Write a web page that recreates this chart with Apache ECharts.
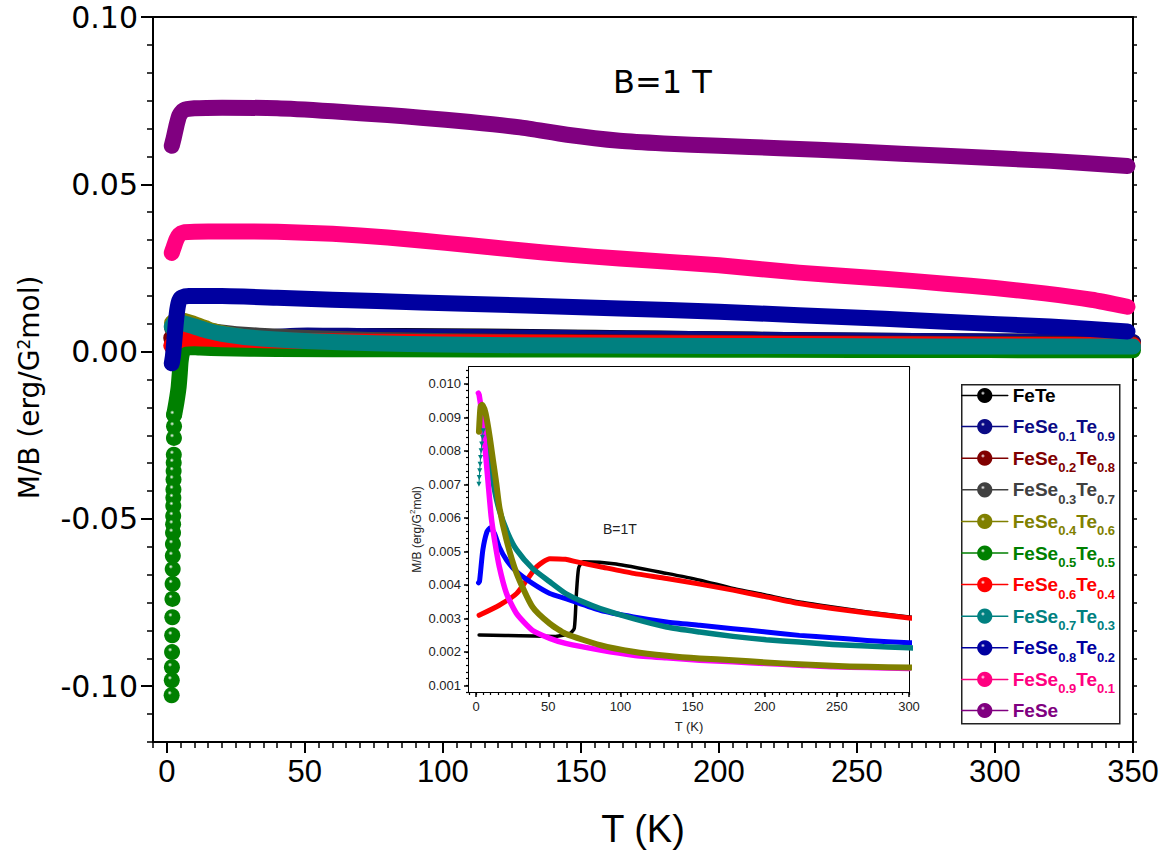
<!DOCTYPE html>
<html><head><meta charset="utf-8">
<script src="https://cdn.jsdelivr.net/npm/echarts@6/dist/echarts.min.js"></script>
<style>html,body{margin:0;padding:0;background:#fff}#c{width:1171px;height:858px}</style>
</head><body><div id="c"></div>
<script>
// ---------------- data ----------------
const seriesNames = ['FeTe','FeSe0.1Te0.9','FeSe0.2Te0.8','FeSe0.3Te0.7','FeSe0.4Te0.6','FeSe0.5Te0.5','FeSe0.6Te0.4','FeSe0.7Te0.3','FeSe0.8Te0.2','FeSe0.9Te0.1','FeSe'];
const seriesColors = ['#000000','#0a0a85','#800000','#404040','#808000','#008000','#ff0000','#008080','#0000a0','#ff0080','#800080'];

const feTe = [[2,0.0025],[20,0.00249],[40,0.00247],[55,0.00246],[65,0.00255],[68,0.0027],[69.4,0.0037],[71,0.0045],[74,0.00469],[97,0.00462],[132,0.00434],[155,0.00414],[178,0.00389],[201,0.00369],[224,0.00349],[247,0.00334],[271,0.00319],[300,0.00304],[350,0.0028]];
const feSe01 = [[2,0.00309],[16,0.00339],[28,0.00374],[35,0.00414],[42,0.00454],[51,0.00478],[62,0.00476],[69,0.00469],[86,0.00454],[109,0.00434],[132,0.00419],[155,0.00402],[178,0.00384],[201,0.00364],[224,0.00344],[247,0.00329],[271,0.00316],[300,0.00301],[350,0.0028]];
const feSe02 = [[1.6,0.00406],[2.3,0.0041],[4.6,0.00504],[7.4,0.00558],[9.7,0.0057],[12.7,0.00553],[16,0.00513],[21,0.00474],[28,0.00439],[39,0.00404],[51,0.00374],[62,0.00359],[86,0.00324],[109,0.00304],[132,0.00289],[155,0.00279],[178,0.00269],[201,0.00259],[224,0.00249],[247,0.00242],[271,0.00234],[300,0.00227],[350,0.0022]];
const feSe03Low = [[1.9,0.0070],[2.1,0.0072],[2.4,0.0074],[2.7,0.0076],[3.0,0.0078],[3.4,0.0080],[3.8,0.0082],[4.3,0.0084],[4.9,0.0086]];
const feSe03 = [[5.1,0.0087],[7,0.0083],[9.3,0.0077],[12.7,0.00683],[16,0.00623],[22,0.00553],[28,0.00504],[39,0.00449],[51,0.00409],[62,0.00374],[74,0.00349],[86,0.00329],[109,0.00299],[132,0.00274],[155,0.00259],[178,0.00246],[201,0.00236],[224,0.00229],[247,0.00222],[271,0.00217],[300,0.00212],[350,0.0020]];
const feSe04 = [[1.9,0.00857],[3,0.00932],[4.2,0.00937],[6.5,0.00912],[9.3,0.00843],[11.6,0.00773],[13.9,0.00703],[16,0.00633],[21,0.00534],[28,0.00434],[39,0.00334],[51,0.00284],[62,0.00254],[86,0.0022],[109,0.002],[132,0.00188],[155,0.0018],[178,0.00175],[201,0.00168],[224,0.00163],[247,0.00158],[271,0.00155],[300,0.00153],[350,0.0015]];
const feSe05Dots = [[2.65,-0.0189],[2.62,-0.0223],[2.58,-0.0258],[2.54,-0.0308],[2.5,-0.0332],[2.47,-0.0357],[2.44,-0.0382],[2.41,-0.0412],[2.38,-0.0437],[2.35,-0.0461],[2.32,-0.0491],[2.29,-0.0516],[2.26,-0.0541],[2.22,-0.0575],[2.18,-0.061],[2.14,-0.065],[2.1,-0.0694],[2.05,-0.0739],[2.0,-0.0794],[1.95,-0.0848],[1.9,-0.0898],[1.85,-0.0943],[1.8,-0.0982],[1.75,-0.1027]];
const feSe05 = [[2.65,-0.0189],[3.2,-0.0165],[3.8,-0.0135],[4.3,-0.0105],[4.7,-0.0065],[5.0,-0.003],[5.5,-0.0005],[6.5,0.001],[8,0.0014],[12,0.0012],[20,0.001],[40,0.0008],[80,0.0007],[150,0.0006],[250,0.0005],[350,0.0004]];
const feSe06 = [[1.6,0.0018],[3,0.0028],[6,0.0038],[10,0.004],[20,0.0037],[50,0.0032],[100,0.0028],[150,0.0026],[200,0.0024],[250,0.0022],[300,0.002],[350,0.0019]];
const feSe07 = [[1.8,0.0075],[2.5,0.0085],[4,0.0088],[6,0.0085],[10,0.0075],[15,0.0062],[20,0.0053],[30,0.0042],[50,0.0032],[75,0.0025],[100,0.0021],[150,0.0018],[200,0.0017],[250,0.0016],[300,0.0015],[350,0.0015]];
const feSe08 = [[1.8,-0.0035],[2.2,-0.0015],[2.7,0.003],[3.2,0.008],[3.8,0.0125],[4.5,0.0152],[5.5,0.0162],[8,0.0166],[20,0.0166],[40,0.0161],[60,0.0155],[92,0.0147],[130,0.0138],[164,0.0129],[200,0.0119],[229,0.0109],[260,0.0098],[282,0.0089],[320,0.0075],[348,0.006]];
const feSe09 = [[1.8,0.0295],[2.5,0.0312],[3.5,0.0335],[4.5,0.0349],[6,0.0356],[10,0.0358],[20,0.0359],[40,0.0358],[60,0.0352],[80,0.0341],[92,0.0332],[110,0.0318],[128,0.0303],[145,0.029],[164,0.0278],[200,0.0258],[229,0.0236],[260,0.0218],[282,0.0203],[300,0.019],[318,0.0174],[335,0.0155],[348,0.0134]];
const feSe = [[1.8,0.0615],[2.5,0.0638],[3.5,0.0675],[4.5,0.0705],[6,0.0721],[10,0.0727],[20,0.0729],[40,0.0727],[60,0.0718],[80,0.0707],[92,0.0699],[110,0.0686],[128,0.067],[145,0.0648],[164,0.063],[180,0.0622],[200,0.0615],[222,0.0608],[250,0.0598],[282,0.0585],[320,0.057],[348,0.0555]];
const insetMagenta = [[1.5,0.00972],[2,0.00967],[3.5,0.00922],[5.8,0.00823],[8.1,0.00713],[10.4,0.00603],[12.7,0.00534],[16,0.00454],[21,0.00374],[28,0.00314],[39,0.00264],[51,0.0024],[62,0.00225],[86,0.00205],[109,0.0019],[132,0.00182],[155,0.00175],[178,0.0017],[201,0.00165],[224,0.0016],[247,0.00155],[271,0.00153],[300,0.0015]];

// tick labels
const mainXMajor = [0,50,100,150,200,250,300,350];
const mainYMajor = [-0.10,-0.05,0.00,0.05,0.10];
const insetXMajor = [0,50,100,150,200,250,300];
const insetYMajor = [0.001,0.002,0.003,0.004,0.005,0.006,0.007,0.008,0.009,0.010];

// ---------------- helpers ----------------
function steps(a, b, d) { const r = []; for (let k = a; k <= b; k++) r.push(+(k * d).toFixed(8)); return r; }
const mainXMinor = steps(-1, 70, 5);
const mainYMinor = steps(-14, 12, 0.05 / 6);
const insetXMinor = steps(-1, 60, 5);
const insetYMinor = steps(4, 52, 0.0002);

const FONT = '"Liberation Sans", Arial, sans-serif';
const WIDE = '"DejaVu Sans", "Liberation Sans", Arial, sans-serif';
const NARROW = '"Liberation Sans Narrow", "Liberation Sans", Arial, sans-serif';

function sphere(c) {
  return { type: 'radial', x: 0.38, y: 0.35, r: 0.62, colorStops: [
    { offset: 0, color: '#ffffff' }, { offset: 0.22, color: c }, { offset: 1, color: c } ] };
}
const mainData = [feTe, feSe01, feSe02, feSe03Low.concat(feSe03), feSe04, feSe05, feSe06, feSe07, feSe08, feSe09, feSe];

const black = '#000';
function ax(grid, pos, min, max, o) {
  return Object.assign({ gridIndex: grid, type: 'value', position: pos, min: min, max: max,
    axisLine: { show: false, onZero: false }, axisTick: { show: false }, axisLabel: { show: false },
    splitLine: { show: false } }, o);
}
const line2 = { show: true, onZero: false, lineStyle: { color: black, width: 2 } };

const xAxes = [
  ax(0, 'bottom', -5, 350, { axisLine: line2,
    axisTick: { show: true, customValues: mainXMajor, length: 11, lineStyle: { color: black, width: 2 } },
    axisLabel: { show: true, customValues: mainXMajor, formatter: v => String(v), fontSize: 31, fontFamily: NARROW, color: black, margin: 14 },
    name: 'T (K)', nameLocation: 'middle', nameGap: 68, nameTextStyle: { fontSize: 38, fontFamily: NARROW, color: black } }),
  ax(0, 'bottom', -5, 350, { axisTick: { show: true, customValues: mainXMinor, length: 6, lineStyle: { color: black, width: 1.5 } } }),
  ax(0, 'top', -5, 350, { axisLine: line2 }),
  ax(1, 'bottom', -5, 300, { axisLine: line2,
    axisTick: { show: true, customValues: insetXMajor, length: 5, lineStyle: { color: black, width: 1.5 } },
    axisLabel: { show: true, customValues: insetXMajor, formatter: v => String(v), fontSize: 13, fontFamily: FONT, color: '#222', margin: 8 },
    name: 'T (K)', nameLocation: 'middle', nameGap: 28, nameTextStyle: { fontSize: 13, fontFamily: FONT, color: '#222' } }),
  ax(1, 'bottom', -5, 300, { axisTick: { show: true, customValues: insetXMinor, length: 3, lineStyle: { color: black, width: 1.2 } } }),
  ax(1, 'top', -5, 300, { axisLine: line2, axisTick: { show: true, inside: true, customValues: insetXMinor, length: 3, lineStyle: { color: black, width: 1.2 } } })
];
const yAxes = [
  ax(0, 'left', -0.11667, 0.1, { axisLine: line2,
    axisTick: { show: true, customValues: mainYMajor, length: 12, lineStyle: { color: black, width: 2 } },
    axisLabel: { show: true, customValues: mainYMajor, formatter: v => v.toFixed(2), fontSize: 30, fontFamily: WIDE, color: black, margin: 15 },
    name: '{t|M/B (erg/G}{p|2}{t|mol)}', nameLocation: 'middle', nameRotate: 90, nameGap: 104,
    nameTextStyle: { color: black, padding: [0, 16, 0, 0], rich: { t: { fontSize: 28, fontFamily: WIDE, color: black, lineHeight: 34, verticalAlign: 'top' },
      p: { fontSize: 17, fontFamily: WIDE, color: black, lineHeight: 18, verticalAlign: 'top' } } } }),
  ax(0, 'left', -0.11667, 0.1, { axisTick: { show: true, customValues: mainYMinor, length: 6, lineStyle: { color: black, width: 1.5 } } }),
  ax(0, 'right', -0.11667, 0.1, { axisLine: line2, axisTick: { show: true, customValues: mainYMinor, length: 4, lineStyle: { color: black, width: 1.5 } } }),
  ax(1, 'left', 0.0008, 0.0105, { axisLine: line2,
    axisTick: { show: true, customValues: insetYMajor, length: 5, lineStyle: { color: black, width: 1.5 } },
    axisLabel: { show: true, customValues: insetYMajor, formatter: v => v.toFixed(3), fontSize: 13, fontFamily: FONT, color: '#222', margin: 8 },
    name: '{t|M/B (erg/G}{p|2}{t|mol)}', nameLocation: 'middle', nameRotate: 90, nameGap: 46,
    nameTextStyle: { color: '#222', rich: { t: { fontSize: 12, fontFamily: FONT, color: '#222', lineHeight: 15, verticalAlign: 'bottom' },
      p: { fontSize: 8, fontFamily: FONT, color: '#222', lineHeight: 15, verticalAlign: 'top', padding: [0, 0, 6, 0] } } } }),
  ax(1, 'left', 0.0008, 0.0105, { axisTick: { show: true, customValues: insetYMinor, length: 3, lineStyle: { color: black, width: 1.2 } } }),
  ax(1, 'right', 0.0008, 0.0105, { axisLine: line2, axisTick: { show: true, inside: true, customValues: insetYMinor, length: 3, lineStyle: { color: black, width: 1.2 } } })
];

const series = [];
seriesNames.forEach((n, i) => {
  series.push({ name: n, type: 'line', xAxisIndex: 0, yAxisIndex: 0, data: mainData[i],
    symbol: 'circle', showSymbol: false, smooth: 0.2,
    itemStyle: { color: sphere(seriesColors[i]) },
    lineStyle: { color: seriesColors[i], width: 16, cap: 'round', join: 'round' },
    emphasis: { disabled: true }, silent: true, z: 2 });
  if (n === 'FeSe0.5Te0.5') {
    series.push({ name: n, type: 'scatter', xAxisIndex: 0, yAxisIndex: 0, data: feSe05Dots,
      symbol: 'circle', symbolSize: 16, itemStyle: { color: sphere(seriesColors[i]), opacity: 1 },
      emphasis: { disabled: true }, silent: true, z: 2 });
  }
});
const insetSets = [
  { name: 'i-black', data: feTe, color: '#000000', w: 3.5 },
  { name: 'i-red', data: feSe01, color: '#ff0000', w: 5 },
  { name: 'i-blue', data: feSe02, color: '#0000ff', w: 5 },
  { name: 'i-teal', data: feSe03, color: '#008080', w: 5.5 },
  { name: 'i-magenta', data: insetMagenta, color: '#ff00ff', w: 5.5 },
  { name: 'i-olive', data: feSe04, color: '#808000', w: 6 }
];
insetSets.forEach(s => series.push({ name: s.name, type: 'line', xAxisIndex: 3, yAxisIndex: 3, data: s.data,
  symbol: 'none', smooth: 0.2, clip: true,
  lineStyle: { color: s.color, width: s.w, cap: 'round', join: 'round' }, emphasis: { disabled: true }, silent: true, z: 3 }));
series.push({ name: 'i-teal-low', type: 'line', xAxisIndex: 3, yAxisIndex: 3, data: feSe03Low,
  symbol: 'triangle', symbolRotate: 180, symbolSize: 5, showSymbol: true, itemStyle: { color: '#008080' },
  lineStyle: { color: '#008080', width: 1 }, emphasis: { disabled: true }, silent: true, z: 3 });

function legendText(name) {
  const i = seriesNames.indexOf(name);
  const m = name.match(/^FeSe([\d.]+)Te([\d.]+)$/);
  if (!m) return '{a' + i + '|' + name + '}';
  return '{a' + i + '|FeSe}{s' + i + '|' + m[1] + '}{a' + i + '|Te}{s' + i + '|' + m[2] + '}';
}
const rich = {};
seriesColors.forEach((c, i) => {
  rich['a' + i] = { color: c, fontSize: 19, fontWeight: 'bold', fontFamily: FONT, lineHeight: 20, padding: [6, 0, 6, 0] };
  rich['s' + i] = { color: c, fontSize: 13, fontWeight: 'bold', fontFamily: FONT, lineHeight: 13, padding: [19, 0, 0, 0] };
});

const option = {
  animation: false,
  backgroundColor: '#fff',
  grid: [
    { left: 153, top: 17, right: 38, bottom: 116, containLabel: false },
    { left: 469, top: 367, width: 440, height: 325, show: true, backgroundColor: '#fff', borderWidth: 0, z: 3 }
  ],
  xAxis: xAxes,
  yAxis: yAxes,
  legend: { orient: 'vertical', left: 961, top: 380, itemWidth: 46, itemHeight: 19, itemGap: -0.4, padding: 0,
    selectedMode: false, data: seriesNames, formatter: legendText, textStyle: { rich: rich },
    lineStyle: { width: 1.5 }, z: 6 },
  graphic: [
    { type: 'rect', left: 961, top: 384, shape: { width: 158, height: 339 }, style: { fill: '#fff', stroke: '#222', lineWidth: 1.5 }, z: 5 },
    { type: 'text', left: 613, top: 66, style: { text: 'B=1 T', fontSize: 32, fontFamily: WIDE, fill: black }, z: 5 },
    { type: 'text', left: 603, top: 522, style: { text: 'B=1T', fontSize: 14, fontFamily: FONT, fill: '#222' }, z: 5 }
  ],
  series: series
};
const chart = echarts.init(document.getElementById('c'), null, { renderer: 'svg', width: 1171, height: 858 });
chart.setOption(option);
</script></body></html>
